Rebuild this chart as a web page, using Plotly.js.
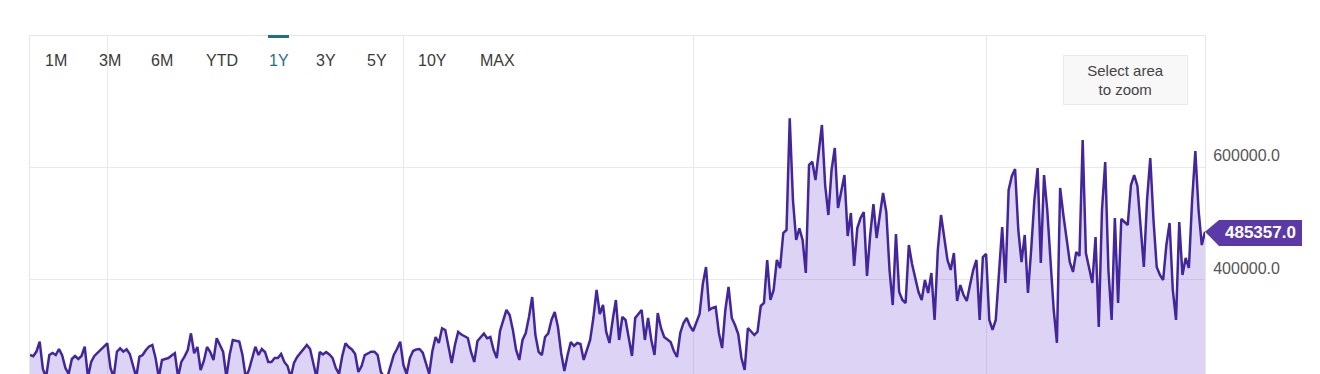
<!DOCTYPE html>
<html>
<head>
<meta charset="utf-8">
<script src="https://cdn.plot.ly/plotly-3.0.1.min.js"></script>
<style>
  html, body { margin: 0; padding: 0; background: #ffffff; overflow: hidden; }
  #chart { width: 1320px; height: 440px; }
</style>
</head>
<body>
<div id="chart"></div>
<script>
// ---- data ----
const startDate = '2022-09-07';
const endDate = '2023-09-07';
const values = [
  267200, 265100, 273300, 290800, 242500, 228000, 267200, 270800, 267200, 277900,
  266400, 244200, 233600, 260200, 265500, 260200, 265500, 281900, 228000, 254900,
  265500, 270800, 276100, 281400, 288000, 244200, 228000, 273100, 279100, 273100,
  277300, 269000, 249500, 228000, 264300, 267200, 276100, 282300, 285000, 261900,
  228000, 258400, 260200, 261900, 266400, 270300, 228000, 254900, 264300, 276100,
  305600, 270300, 281400, 240700, 256600, 281400, 272600, 258400, 296800, 285000,
  272600, 228000, 267200, 293800, 292900, 291100, 267200, 228000, 240700, 263700,
  281900, 267200, 277900, 272600, 254900, 254900, 261900, 261900, 269000, 254900,
  247800, 228000, 253100, 263700, 270800, 277900, 285000, 277900, 254900, 228000,
  272600, 268100, 272600, 268100, 261900, 244200, 233600, 265500, 288000, 281400,
  277000, 269000, 237200, 247800, 267200, 270800, 273100, 273100, 267200, 237200,
  228000, 228000, 247800, 267200, 277900, 290800, 249500, 233600, 261900, 274300,
  277000, 277900, 271600, 251300, 233600, 274300, 299100, 288500, 314500, 311500,
  279600, 253100, 285000, 308000, 303500, 300000, 297300, 272600, 254900, 292000,
  299100, 305300, 296800, 299100, 276100, 261900, 309700, 329200, 346900, 338000,
  311500, 276100, 258400, 293800, 306200, 334500, 369900, 302600, 272600, 267200,
  299100, 305600, 329200, 343400, 316800, 270800, 238900, 267200, 290300, 283200,
  288500, 286700, 258400, 276100, 293800, 332700, 382300, 339800, 355700, 308000,
  288500, 329200, 364600, 293800, 334500, 329200, 297300, 265500, 332700, 339800,
  346900, 293800, 332900, 293800, 267200, 341600, 315000, 299100, 293800, 290300,
  274300, 263700, 306200, 323900, 332700, 318700, 309700, 325700, 339800, 392900,
  423000, 346900, 350400, 352200, 306200, 279600, 346900, 387600, 332900, 320400,
  304400, 261900, 240700, 315000, 309700, 302600, 308700, 354000, 359300, 435400,
  364600, 382300, 435400, 421200, 483200, 488500, 686200, 541600, 470800, 491500,
  470800, 412400, 603500, 609400, 577000, 630100, 674400, 568100, 515000, 594700,
  633600, 527400, 559300, 585800, 477900, 518600, 424800, 492000, 509700, 520400,
  407100, 479700, 534500, 474300, 515000, 554000, 520400, 417700, 355700, 481400,
  378700, 364600, 359300, 461900, 428300, 403500, 378700, 364600, 400000, 377000,
  412400, 329200, 453100, 515000, 470800, 435400, 417700, 447800, 362800, 391000,
  373400, 362800, 391000, 417700, 435400, 329200, 440700, 446000, 329200, 311500,
  329200, 417700, 493800, 394700, 559300, 584100, 596500, 488500, 431800, 479700,
  377000, 453100, 541600, 598200, 430100, 585800, 523900, 435400, 346900, 288500,
  562800, 515000, 470800, 431800, 414200, 449600, 442500, 647800, 447800, 417700,
  394700, 476100, 316800, 523900, 608900, 417700, 329200, 509700, 359300, 508000,
  502700, 497400, 568100, 585800, 566400, 488500, 423000, 541600, 615900, 506200,
  423000, 408900, 400000, 461900, 500900, 382300, 329200, 502700, 408900, 439000,
  421200, 541600, 628300, 523900, 461900, 485357
];
const gridDates = ['2022-10-01', '2023-01-01', '2023-04-01', '2023-07-01'];
const yTickValues = [400000, 600000];
const buttonLabels = ['1M', '3M', '6M', 'YTD', '1Y', '3Y', '5Y', '10Y', 'MAX'];
const activeButton = '1Y';
const lastValue = values[values.length - 1];

// daily dates
const dates = values.map((v, i) => {
  const d = new Date(Date.UTC(2022, 8, 7 + i));
  return d.toISOString().slice(0, 10);
});

// ---- layout helpers (pixel -> paper) ----
const PL = 30, PR = 1205, PT = 36, PB = 420;
const px = x => (x - PL) / (PR - PL);
const py = y => (PB - y) / (PB - PT);

const buttonX = [56, 110, 162, 222, 279, 326, 377, 432, 497];

const annotations = buttonLabels.map((lab, i) => ({
  xref: 'paper', yref: 'paper',
  x: px(buttonX[i]), y: py(61),
  xanchor: 'center', yanchor: 'middle',
  text: lab, showarrow: false,
  font: { family: 'Liberation Sans, Arial, sans-serif', size: 16,
          color: lab === activeButton ? '#1f6f8b' : '#3a3a3a' }
}));

annotations.push({
  xref: 'paper', yref: 'paper',
  x: px(1125.5), y: py(80),
  xanchor: 'center', yanchor: 'middle',
  text: 'Select area<br>to zoom', showarrow: false,
  width: 121, height: 46,
  bgcolor: '#f8f8f9', bordercolor: '#e9e9ec', borderwidth: 1, borderpad: 1,
  font: { family: 'Liberation Sans, Arial, sans-serif', size: 15, color: '#444444' }
});

annotations.push({
  xref: 'paper', yref: 'y',
  x: px(1260), y: lastValue - 1500,
  xanchor: 'center', yanchor: 'middle',
  text: '<b>' + lastValue.toFixed(1) + '</b>', showarrow: false,
  font: { family: 'Liberation Sans, Arial, sans-serif', size: 17, color: '#ffffff' }
});

const shapes = [
  { type: 'rect', xref: 'paper', yref: 'paper',
    x0: px(268), x1: px(289), y0: py(38), y1: py(35),
    fillcolor: '#1f6f8b', line: { width: 0 } },
  { type: 'path', xref: 'paper', yref: 'y',
    path: 'M ' + px(1205) + ' ' + lastValue +
          ' L ' + px(1219) + ' ' + (lastValue + 21000) +
          ' L ' + px(1302) + ' ' + (lastValue + 21000) +
          ' L ' + px(1302) + ' ' + (lastValue - 25000) +
          ' L ' + px(1219) + ' ' + (lastValue - 25000) + ' Z',
    fillcolor: '#5b3aa8', line: { width: 0 } }
];

const yPerPx = 1770;
const yTop = 600000 + (167 - PT) * yPerPx;
const yBottom = 600000 - (PB - 167) * yPerPx;

const trace = {
  type: 'scatter', mode: 'lines',
  x: dates, y: values,
  line: { color: '#43279a', width: 2.5 },
  fill: 'tozeroy',
  fillcolor: 'rgba(142,112,222,0.30)',
  hoverinfo: 'skip'
};

const layout = {
  width: 1320, height: 440,
  margin: { l: PL, r: 1320 - PR, t: PT, b: 440 - PB, pad: 0 },
  paper_bgcolor: '#ffffff', plot_bgcolor: '#ffffff',
  showlegend: false,
  xaxis: {
    type: 'date', range: [startDate, endDate],
    tickmode: 'array', tickvals: gridDates, showticklabels: false,
    showgrid: true, gridcolor: '#e9e9e9', gridwidth: 1,
    showline: true, mirror: true, linecolor: '#e6e6e6', linewidth: 1,
    zeroline: false, ticks: ''
  },
  yaxis: {
    side: 'right', range: [yBottom, yTop],
    tickmode: 'array', tickvals: yTickValues,
    ticktext: yTickValues.map(v => v.toFixed(1)),
    ticklabelposition: 'outside top',
    ticklabelstandoff: 4,
    showgrid: true, gridcolor: '#e9e9e9', gridwidth: 1,
    showline: true, mirror: true, linecolor: '#e6e6e6', linewidth: 1,
    zeroline: false, ticks: '',
    tickfont: { family: 'Liberation Sans, Arial, sans-serif', size: 16, color: '#555555' }
  },
  annotations: annotations,
  shapes: shapes
};

Plotly.newPlot('chart', [trace], layout, { displayModeBar: false, staticPlot: true });
</script>
</body>
</html>
